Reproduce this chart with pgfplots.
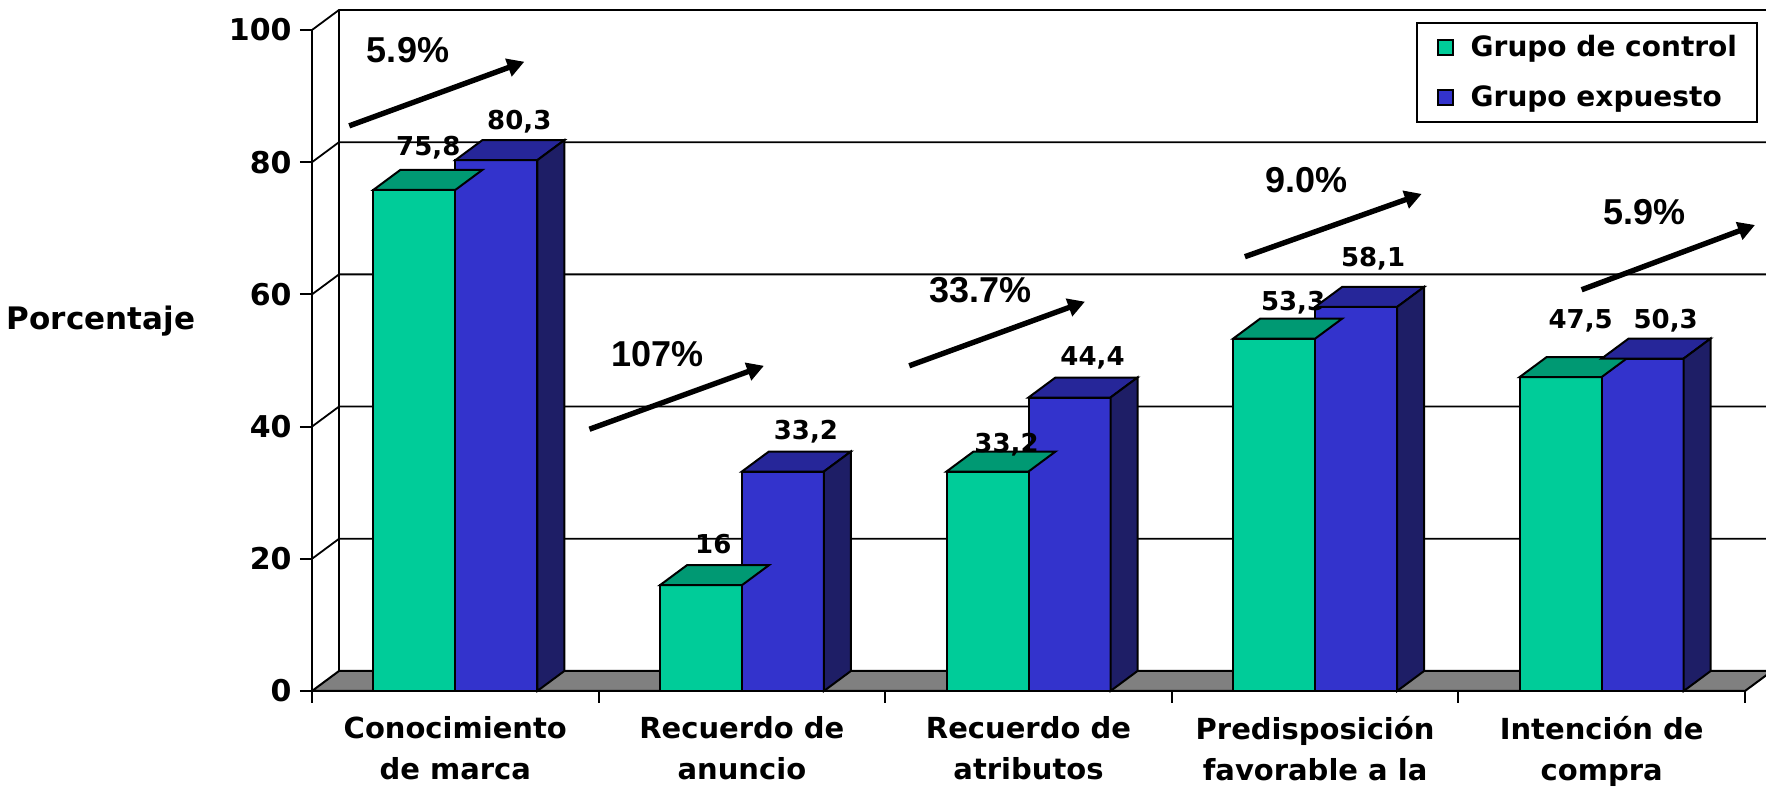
\documentclass[border=0pt]{standalone}
\usepackage{pgfplots}
\pgfplotsset{compat=1.18}
\usepackage{pgfplotstable}
\usepackage{fontspec}
\setmainfont{DejaVu Sans}
\newfontfamily\pctfamily{Liberation Sans}
\usetikzlibrary{arrows.meta}

\definecolor{ctrlFront}{RGB}{0,204,153}
\definecolor{ctrlTop}{RGB}{0,153,115}
\definecolor{expoFront}{RGB}{51,51,204}
\definecolor{expoTop}{RGB}{38,38,153}
\definecolor{expoSide}{RGB}{30,30,102}
\definecolor{floorGray}{RGB}{128,128,128}

\newcommand\tickfont{\fontsize{15}{18}\selectfont\bfseries}
\newcommand\catfont{\fontsize{14.5}{20.5}\selectfont\bfseries}
\newcommand\valfont{\fontsize{13}{15}\selectfont\bfseries}
\newcommand\pctfont{\pctfamily\fontsize{18}{21}\selectfont\bfseries}
\newcommand\legfont{\fontsize{14}{16}\selectfont\bfseries}
\newcommand\labfont{\fontsize{15.5}{18}\selectfont\bfseries}

% x = category, y = percentage, lx/ly = offset of the value label
\pgfplotstableread{
x y    lx    ly
0 75.8 -13.5 17
1 16   -14.3 16
2 33.2 -11   9.75
3 53.3 -11   14
4 47.5 -10.5 24.5
}\ctrl
\pgfplotstableread{
x y    lx ly
0 80.3 32 15.5
1 33.2 32 16.25
2 44.4 32 16.25
3 58.1 29 20
4 50.3 32 15.25
}\expo

% depth of the 3D box and the y unit in pt per percent
\def\depthx{13.5pt}
\def\depthy{10pt}
\def\yunit{3.305}

% top face of a control bar; the point is its top right front corner
\pgfdeclareplotmark{ctrltop}{%
  \pgfpathmoveto{\pgfqpoint{-41pt}{0pt}}%
  \pgfpathlineto{\pgfqpoint{0pt}{0pt}}%
  \pgfpathlineto{\pgfqpoint{13.5pt}{10pt}}%
  \pgfpathlineto{\pgfqpoint{-27.5pt}{10pt}}%
  \pgfpathclose
  \pgfsetfillcolor{ctrlTop}%
  \pgfusepathqfillstroke
}
% top and side faces of an exposed bar; the point is its top left front corner
\pgfdeclareplotmark{expobox}{%
  \pgfmathsetlengthmacro\barh{\barval*\yunit pt}%
  \pgfmathsetlengthmacro\barhb{10pt-\barval*\yunit pt}%
  \pgfpathmoveto{\pgfqpoint{0pt}{0pt}}%
  \pgfpathlineto{\pgfqpoint{41pt}{0pt}}%
  \pgfpathlineto{\pgfqpoint{54.5pt}{10pt}}%
  \pgfpathlineto{\pgfqpoint{13.5pt}{10pt}}%
  \pgfpathclose
  \pgfsetfillcolor{expoTop}%
  \pgfusepathqfillstroke
  \pgfpathmoveto{\pgfqpoint{41pt}{0pt}}%
  \pgfpathlineto{\pgfqpoint{54.5pt}{10pt}}%
  \pgfpathlineto{\pgfqpoint{54.5pt}{\barhb}}%
  \pgfpathlineto{\pgfqpoint{41pt}{-\barh}}%
  \pgfpathclose
  \pgfsetfillcolor{expoSide}%
  \pgfusepathqfillstroke
}

\pgfplotsset{
  sqlegend/.style={legend image code/.code={%
    \draw[##1, draw=black, line width=0.8pt] (0pt,-3.75pt) rectangle (7.5pt,3.75pt);}},
  boxfaces/.style={forget plot, scatter, only marks,
    mark options={draw=black, line width=1pt},
    scatter/@pre marker code/.code={}, scatter/@post marker code/.code={},
    point meta=y,
    visualization depends on={\thisrow{lx} \as \lx},
    visualization depends on={\thisrow{ly} \as \ly},
    nodes near coords,
    every node near coord/.append style={font=\valfont, text=black, anchor=base,
      inner sep=0pt, xshift=\lx pt, yshift=\ly pt}},
}

\begin{document}
\begin{tikzpicture}
\begin{axis}[
  x=143.3pt, y=3.305pt,
  xmin=-0.5, xmax=4.5, ymin=0, ymax=100,
  clip=false,
  axis lines*=left,
  axis line style={line width=1pt},
  tick align=outside,
  major tick length=6pt,
  minor tick length=6pt,
  tick style={line width=1pt, black},
  ytick={0,20,...,100},
  xtick={0,...,4},
  minor xtick={-0.5,0.5,...,4.5},
  major x tick style={draw=none},
  xticklabels={{Conocimiento\\de marca},{Recuerdo de\\anuncio},{Recuerdo de\\atributos},{Predisposición\\favorable a la},{Intención de\\compra}},
  xticklabel style={font=\catfont, align=center, inner sep=0pt, yshift=-6.5pt},
  yticklabel style={font=\tickfont, inner sep=0pt, xshift=-4pt},
  /pgf/number format/assume math mode=true,
  /pgf/number format/use comma,
  every axis y label/.style={at={(axis description cs:0,0.5598)}, xshift=-105.5pt, anchor=center, font=\labfont},
  ylabel={Porcentaje},
  legend style={at={(1.0091,1.0126)}, anchor=north east, draw=black, line width=1pt,
    inner xsep=10pt, inner ysep=6.5pt, row sep=12.7pt, column sep=8.5pt,
    nodes={inner sep=0pt}, font=\legfont},
  legend cell align=left,
]
% floor
\filldraw[fill=floorGray, draw=black, line width=1pt]
  (axis cs:-0.5,0) -- (axis cs:4.5,0) -- ([shift={(\depthx,\depthy)}]axis cs:4.5,0)
  -- ([shift={(\depthx,\depthy)}]axis cs:-0.5,0) -- cycle;
% back wall edge and gridlines on side and back walls
\draw[line width=1pt] ([shift={(\depthx,\depthy)}]axis cs:-0.5,0) -- ([shift={(\depthx,\depthy)}]axis cs:-0.5,100);
\pgfplotsinvokeforeach{20,40,60,80,100}{
  \draw[line width=0.9pt] (axis cs:-0.5,#1) -- ([shift={(\depthx,\depthy)}]axis cs:-0.5,#1)
    -- ([shift={(\depthx,\depthy)}]axis cs:4.5,#1);
}

% control group
\addplot[ybar, bar width=41pt, bar shift=-20.5pt, fill=ctrlFront, draw=black, line width=1pt, sqlegend]
  table[x=x, y=y] {\ctrl};
\addplot[boxfaces, mark=ctrltop] table[x=x, y=y] {\ctrl};

% exposed group
\addplot[ybar, bar width=41pt, bar shift=20.5pt, fill=expoFront, draw=black, line width=1pt, sqlegend]
  table[x=x, y=y] {\expo};
\addplot[boxfaces, mark=expobox, visualization depends on={\thisrow{y} \as \barval}]
  table[x=x, y=y] {\expo};

% relative increase of the exposed group
\tikzset{growth/.style={line width=2.7pt, -{Triangle[length=8.5pt,width=9pt]}}}
\draw[growth] (axis cs:-0.370,85.5) -- (axis cs:0.241,95.2);
\draw[growth] (axis cs:0.468,39.6) -- (axis cs:1.077,49.2);
\draw[growth] (axis cs:1.584,49.2) -- (axis cs:2.197,58.9);
\draw[growth] (axis cs:2.755,65.7) -- (axis cs:3.372,75.2);
\draw[growth] (axis cs:3.930,60.7) -- (axis cs:4.535,70.5);
\node[font=\pctfont] at (axis cs:-0.165,96.9) {5.9\%};
\node[font=\pctfont] at (axis cs:0.704,51.0) {107\%};
\node[font=\pctfont] at (axis cs:1.831,60.7) {33.7\%};
\node[font=\pctfont] at (axis cs:2.971,77.3) {9.0\%};
\node[font=\pctfont] at (axis cs:4.150,72.5) {5.9\%};

\legend{Grupo de control, Grupo expuesto}
\coordinate (O) at (rel axis cs:0,0);
\end{axis}
\pgfresetboundingbox
\path[use as bounding box] ([shift={(-156pt,-49.5pt)}]O) rectangle ([shift={(727pt,345.5pt)}]O);
\end{tikzpicture}
\end{document}
